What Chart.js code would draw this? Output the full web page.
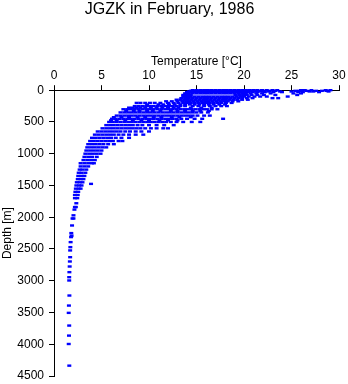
<!DOCTYPE html>
<html>
<head>
<meta charset="utf-8">
<script src="https://cdn.jsdelivr.net/npm/chart.js@4/dist/chart.umd.min.js"></script>
<style>
  html, body { margin: 0; padding: 0; background: #fff; }
  canvas { display: block; }
</style>
</head>
<body>
<canvas id="profile" width="348" height="384"></canvas>
<script>
// sampled depths (m) and the station temperatures (°C) read at each depth
const depthLevels = [
  0, 10, 20, 30, 50, 75, 100, 125, 150, 175,
  200, 225, 250, 275, 300, 325, 350, 400, 425, 450,
  475, 500, 550, 600, 650, 700, 750, 800, 850, 900,
  950, 1000, 1050, 1100, 1150, 1200, 1250, 1300, 1350, 1400,
  1450, 1475, 1500, 1550, 1600, 1650, 1700, 1780, 1840, 1880,
  1970, 2020, 2130, 2250, 2290, 2313, 2392, 2471, 2523, 2629,
  2697, 2776, 2865, 2944, 2996, 3233, 3391, 3506, 3706, 3864,
  3996, 4337
];

const levelTemps = [
  [14.6, 15.0, 15.4, 15.8, 16.2, 16.6, 17.0, 17.4, 17.8, 18.2, 18.6, 19.0, 19.4, 19.8, 20.2, 20.6, 21.0, 21.4, 21.9, 22.4, 23.0, 23.5, 26.0, 26.4, 27.1, 28.6, 29.1],
  [14.4, 14.8, 15.2, 15.6, 16.0, 16.4, 16.8, 17.2, 17.6, 18.0, 18.4, 18.8, 19.2, 19.6, 20.0, 20.4, 20.8, 21.2, 21.6, 22.1, 22.7, 23.3, 25.4, 25.8, 26.6, 27.6, 28.2, 28.7],
  [14.2, 14.6, 15.0, 15.4, 15.8, 16.2, 16.6, 17.0, 17.4, 17.8, 18.2, 18.6, 19.0, 19.4, 19.8, 20.2, 20.6, 21.0, 21.5, 22.0, 22.6, 23.8, 25.0, 26.9, 27.3, 28.9],
  [14.0, 14.4, 14.8, 15.2, 15.6, 16.0, 16.4, 16.8, 17.2, 17.6, 18.0, 18.4, 18.8, 19.2, 19.6, 20.0, 20.4, 20.9, 21.4, 22.2, 23.1, 24.0, 25.7, 26.2, 27.9],
  [13.8, 14.2, 14.6, 15.0, 15.4, 15.8, 16.2, 16.6, 17.0, 17.4, 17.8, 18.2, 18.6, 19.0, 19.4, 19.8, 20.2, 20.7, 21.3, 21.9, 22.8, 25.2, 26.0],
  [13.6, 14.0, 14.4, 19.1, 19.5, 19.9, 20.3, 20.8, 21.4, 22.1, 23.3, 25.6],
  [13.6, 14.0, 14.4, 14.8, 15.2, 15.6, 16.0, 16.4, 16.8, 17.2, 17.6, 18.0, 18.4, 18.8, 19.2, 19.6, 20.0, 20.5, 21.1, 21.7, 22.4, 24.6],
  [13.4, 13.8, 14.2, 14.6, 15.0, 15.4, 15.8, 16.2, 16.6, 17.0, 17.4, 17.8, 18.2, 18.6, 19.0, 19.4, 19.8, 20.3, 20.9, 23.0, 23.6],
  [12.9, 13.3, 13.7, 14.1, 14.5, 14.9, 15.3, 15.7, 16.1, 16.5, 16.9, 17.3, 17.7, 18.1, 18.5, 18.9, 19.3, 19.8, 20.4],
  [11.8, 12.4, 13.0, 13.5, 13.9, 14.3, 14.7, 15.1, 15.5, 15.9, 16.3, 16.7, 17.1, 17.5, 17.9, 18.3, 18.8, 19.4],
  [8.7, 9.1, 9.6, 10.1, 10.6, 11.2, 12.0, 12.6, 13.1, 13.6, 14.0, 14.4, 14.8, 15.2, 15.6, 16.0, 16.4, 16.8, 17.2, 17.6, 18.1, 18.7],
  [9.8, 11.0, 11.5, 12.1, 12.7, 13.3, 13.8, 14.3, 14.8, 15.3, 15.8, 16.3, 16.8, 17.4, 18.0],
  [8.5, 8.9, 9.3, 9.7, 10.1, 10.5, 10.9, 11.3, 11.7, 12.1, 12.5, 12.9, 13.3, 13.8, 14.6, 15.2, 15.8, 16.4, 17.0, 17.6, 18.2],
  [7.9, 8.3, 8.7, 9.1, 9.6, 10.2, 10.8, 11.4, 12.0, 12.6, 13.1, 14.4, 15.5, 16.6],
  [7.3, 7.7, 8.1, 8.5, 8.9, 9.3, 9.7, 10.1, 10.5, 10.9, 11.3, 11.7, 12.1, 12.5, 12.9, 13.3, 13.7, 14.1, 14.5, 14.9, 15.3, 15.7, 16.1, 16.6, 17.2],
  [7.6, 8.4, 9.0, 9.8, 10.4, 11.2, 12.3, 13.0, 13.8, 14.6, 15.4, 16.3],
  [7.0, 7.4, 7.8, 8.2, 8.6, 9.0, 9.4, 9.8, 10.2, 10.6, 11.0, 11.4, 11.8, 12.2, 12.6, 13.0, 13.4, 13.8, 14.2, 14.6, 15.0, 15.5, 16.2],
  [6.6, 7.0, 7.4, 7.8, 8.2, 8.6, 9.0, 9.4, 9.8, 10.2, 10.6, 11.0, 11.4, 11.8, 12.2, 12.6, 13.0, 13.4, 13.8, 14.2, 14.6, 15.1, 15.8, 16.4],
  [6.3, 7.1, 7.9, 8.8, 9.6, 10.5, 11.3, 12.4, 13.2, 14.4],
  [6.1, 6.5, 6.9, 7.3, 7.7, 8.1, 8.5, 8.9, 9.3, 9.7, 10.1, 10.5, 10.9, 11.3, 11.7, 12.1, 12.5, 12.9, 13.4, 14.0, 14.8, 15.6, 17.8],
  [6.0, 6.6, 7.5, 8.3, 9.2, 10.0, 11.1, 12.0, 13.0],
  [5.8, 6.2, 6.6, 7.0, 7.4, 7.8, 8.2, 8.6, 9.0, 9.4, 9.8, 10.2, 10.6, 11.0, 11.4, 11.8, 12.3, 12.9, 13.6, 14.5, 15.4],
  [5.5, 5.9, 6.3, 6.7, 7.1, 7.5, 7.9, 8.3, 8.8, 9.3, 10.0, 10.8, 11.6, 12.6],
  [5.1, 5.5, 5.9, 6.3, 6.7, 7.1, 7.5, 7.9, 8.3, 8.7, 9.1, 9.6, 10.2, 10.8, 11.5, 12.0],
  [4.6, 5.0, 5.4, 5.8, 6.2, 6.6, 7.0, 7.5, 8.0, 8.6, 9.2, 10.0],
  [4.3, 4.7, 5.1, 5.5, 5.9, 6.3, 6.8, 7.3, 7.9, 8.6, 9.4],
  [4.0, 4.4, 4.8, 5.2, 5.6, 6.0, 6.5, 7.1, 7.9],
  [3.8, 4.2, 4.6, 5.0, 5.4, 5.8, 6.2, 6.8, 7.2],
  [3.6, 4.0, 4.4, 4.8, 5.2, 5.7, 6.3],
  [3.5, 3.9, 4.3, 4.7, 5.1, 5.5],
  [3.4, 3.8, 4.2, 4.6, 5.0],
  [3.3, 3.7, 4.1, 4.5, 4.9],
  [3.2, 3.6, 4.0, 4.5],
  [3.1, 3.5, 3.9, 4.3],
  [2.8, 3.2, 3.6, 4.0, 4.2],
  [2.8, 3.2, 3.6],
  [2.7, 3.0, 3.4],
  [2.6, 2.9, 3.3],
  [2.55, 2.9, 3.2],
  [2.5, 2.8, 3.1],
  [2.4, 2.7, 3.0],
  [3.9],
  [2.35, 2.65, 2.9],
  [2.3, 2.6, 2.8],
  [2.25, 2.55],
  [2.2, 2.5],
  [2.2, 2.45],
  [2.35],
  [2.2, 2.3],
  [2.15],
  [2.05],
  [1.95, 2.05],
  [1.9],
  [1.82],
  [1.85],
  [1.8],
  [1.75],
  [1.72],
  [1.7],
  [1.7],
  [1.67],
  [1.65],
  [1.62],
  [1.6],
  [1.6],
  [1.62],
  [1.57],
  [1.55],
  [1.6],
  [1.58],
  [1.55],
  [1.61]
];

const tempTicks = [0, 5, 10, 15, 20, 25, 30];
const depthTicks = [0, 500, 1000, 1500, 2000, 2500, 3000, 3500, 4000, 4500];

const points = [];
depthLevels.forEach((d, i) => {
  levelTemps[i].forEach(t => points.push({ x: t, y: d }));
});

Chart.defaults.font.family = "'Liberation Sans', Arial, sans-serif";
Chart.defaults.color = '#000';

const axisGrid = { drawOnChartArea: false, drawTicks: true, tickLength: 5, color: '#000', lineWidth: 1 };

new Chart(document.getElementById('profile'), {
  type: 'scatter',
  data: {
    datasets: [{
      data: points,
      pointStyle: 'line',
      pointRadius: 2,
      pointBorderWidth: 2.4,
      pointBorderColor: '#0000ff',
      pointBackgroundColor: '#0000ff',
      clip: false
    }]
  },
  options: {
    responsive: false,
    animation: false,
    events: [],
    layout: { padding: { top: 0, right: 9, bottom: 8, left: 0 } },
    plugins: {
      legend: { display: false },
      tooltip: { enabled: false },
      title: {
        display: true,
        text: 'JGZK in February, 1986',
        color: '#000',
        font: { size: 16, weight: 'normal' },
        padding: { top: 0, bottom: 9 }
      }
    },
    scales: {
      x: {
        type: 'linear',
        position: 'top',
        min: 0,
        max: 30,
        afterBuildTicks: s => { s.ticks = tempTicks.map(v => ({ value: v })); },
        afterFit: s => { s.height = 62; },
        ticks: { color: '#000', font: { size: 12 }, padding: 2, maxRotation: 0 },
        grid: axisGrid,
        border: { display: true, color: '#000', width: 1 },
        title: {
          display: true,
          text: 'Temperature [°C]',
          color: '#000',
          font: { size: 12 },
          padding: { top: 26, bottom: 0 }
        }
      },
      y: {
        type: 'linear',
        reverse: true,
        min: 0,
        max: 4500,
        afterBuildTicks: s => { s.ticks = depthTicks.map(v => ({ value: v })); },
        afterFit: s => { s.width = 54; s.paddingTop = 0; s.paddingBottom = 0; },
        ticks: { color: '#000', font: { size: 12 }, padding: 5, callback: v => String(v) },
        grid: axisGrid,
        border: { display: true, color: '#000', width: 1 },
        title: {
          display: true,
          text: 'Depth [m]',
          color: '#000',
          font: { size: 12 },
          padding: { top: 0, bottom: 3 }
        }
      }
    }
  }
});
</script>
</body>
</html>
